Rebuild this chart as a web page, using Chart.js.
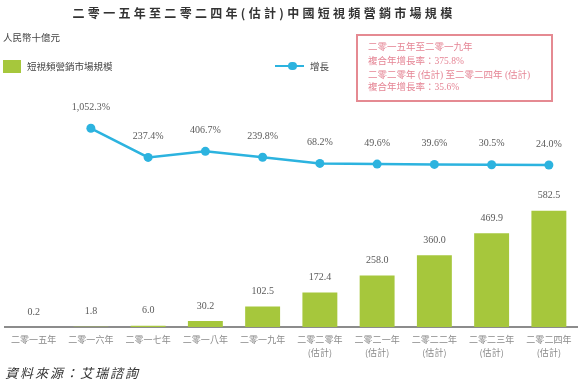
<!DOCTYPE html>
<html>
<head>
<meta charset="utf-8">
<script src="https://cdn.jsdelivr.net/npm/chart.js@4/dist/chart.umd.min.js"></script>
<style>
  html,body{margin:0;padding:0;background:#fff;}
  #wrap{position:relative;width:582px;height:381px;overflow:hidden;font-family:"Noto Sans CJK TC","Noto Sans CJK SC",sans-serif;}
  canvas{position:absolute;left:0;top:0;}
  .abs{position:absolute;white-space:nowrap;}
  #title{left:0;width:528px;top:3px;text-align:center;font-size:12px;font-weight:bold;letter-spacing:3.3px;color:#333;line-height:20px;}
  #unit{left:3px;top:30px;font-size:9.5px;color:#444;line-height:14px;}
  #box{left:356px;top:34px;width:193px;height:64px;border:2.5px solid #e58a92;}
  .bt{position:absolute;left:10px;font-size:9.5px;color:#e58595;font-family:"Liberation Serif","Noto Sans CJK TC",serif;line-height:13px;}
  #leg1sw{left:3px;top:60px;width:18px;height:13px;background:#a6c73c;}
  #leg1{left:27px;top:59px;font-size:9.5px;color:#444;line-height:14px;}
  #leg2line{left:275px;top:64.5px;width:29px;height:2.5px;background:#2cb3df;}
  #leg2dot{left:288px;top:61.5px;width:8.5px;height:8.5px;border-radius:50%;background:#2cb3df;}
  #leg2{left:310px;top:59px;font-size:9.5px;color:#444;line-height:14px;}
  #src{left:5px;top:364px;font-size:13px;font-style:italic;color:#333;letter-spacing:2px;line-height:18px;}
</style>
</head>
<body>
<div id="wrap">
  <canvas id="c" width="582" height="381"></canvas>
  <div class="abs" id="title">二零一五年至二零二四年(估計)中國短視頻營銷市場規模</div>
  <div class="abs" id="unit">人民幣十億元</div>
  <div class="abs" id="box">
    <div class="bt" style="top:5px">二零一五年至二零一九年</div>
    <div class="bt" style="top:18.5px">複合年增長率：375.8%</div>
    <div class="bt" style="top:33px">二零二零年 (估計) 至二零二四年 (估計)</div>
    <div class="bt" style="top:45px">複合年增長率：35.6%</div>
  </div>
  <div class="abs" id="leg1sw"></div>
  <div class="abs" id="leg1">短視頻營銷市場規模</div>
  <div class="abs" id="leg2line"></div>
  <div class="abs" id="leg2dot"></div>
  <div class="abs" id="leg2">增長</div>
  <div class="abs" id="src">資料來源：艾瑞諮詢</div>
</div>
<script>
const categories = [
  ['二零一五年'], ['二零一六年'], ['二零一七年'], ['二零一八年'], ['二零一九年'],
  ['二零二零年','(估計)'], ['二零二一年','(估計)'], ['二零二二年','(估計)'],
  ['二零二三年','(估計)'], ['二零二四年','(估計)']
];
const marketSize = [0.2, 1.8, 6.0, 30.2, 102.5, 172.4, 258.0, 360.0, 469.9, 582.5];
const marketSizeLabels = ['0.2','1.8','6.0','30.2','102.5','172.4','258.0','360.0','469.9','582.5'];
const growth = [null, 1052.3, 237.4, 406.7, 239.8, 68.2, 49.6, 39.6, 30.5, 24.0];
const growthLabels = ['', '1,052.3%', '237.4%', '406.7%', '239.8%', '68.2%', '49.6%', '39.6%', '30.5%', '24.0%'];

const labelPlugin = {
  id: 'valueLabels',
  afterDatasetsDraw(chart) {
    const ctx = chart.ctx;
    ctx.save();
    ctx.font = '10px "Liberation Serif", serif';
    ctx.fillStyle = '#5a5a5a';
    ctx.textAlign = 'center';
    ctx.textBaseline = 'middle';
    chart.getDatasetMeta(0).data.forEach((el, i) => {
      ctx.fillText(marketSizeLabels[i], el.x, el.y - 15);
    });
    chart.getDatasetMeta(1).data.forEach((el, i) => {
      if (growth[i] == null) return;
      ctx.fillText(growthLabels[i], el.x, el.y - 21);
    });
    ctx.restore();
  }
};

new Chart(document.getElementById('c'), {
  data: {
    labels: categories,
    datasets: [
      {
        type: 'bar',
        label: '短視頻營銷市場規模',
        data: marketSize,
        backgroundColor: '#a6c73c',
        barPercentage: 0.61,
        categoryPercentage: 1.0,
        yAxisID: 'y',
        order: 2
      },
      {
        type: 'line',
        label: '增長',
        data: growth,
        borderColor: '#2cb3df',
        backgroundColor: '#2cb3df',
        borderWidth: 2.5,
        pointRadius: 4.5,
        pointBackgroundColor: '#2cb3df',
        pointBorderWidth: 0,
        tension: 0,
        yAxisID: 'y1',
        order: 1
      }
    ]
  },
  options: {
    responsive: false,
    animation: false,
    layout: { padding: { top: 50, left: 5, right: 1, bottom: 0 } },
    plugins: { legend: { display: false }, tooltip: { enabled: false } },
    scales: {
      x: {
        grid: { display: false, drawTicks: false },
        border: { display: true, color: '#8c8c8c', width: 2 },
        ticks: {
          color: '#8a8a8a',
          font: { size: 9, family: '"Noto Sans CJK TC", sans-serif', lineHeight: 1.45 },
          padding: 6,
          maxRotation: 0,
          autoSkip: false
        },
        afterFit(scale) { scale.height = 54; }
      },
      y: { display: false, min: 0, max: 1389 },
      y1: { display: false, min: -4515, max: 3246 }
    }
  },
  plugins: [labelPlugin]
});
</script>
</body>
</html>
